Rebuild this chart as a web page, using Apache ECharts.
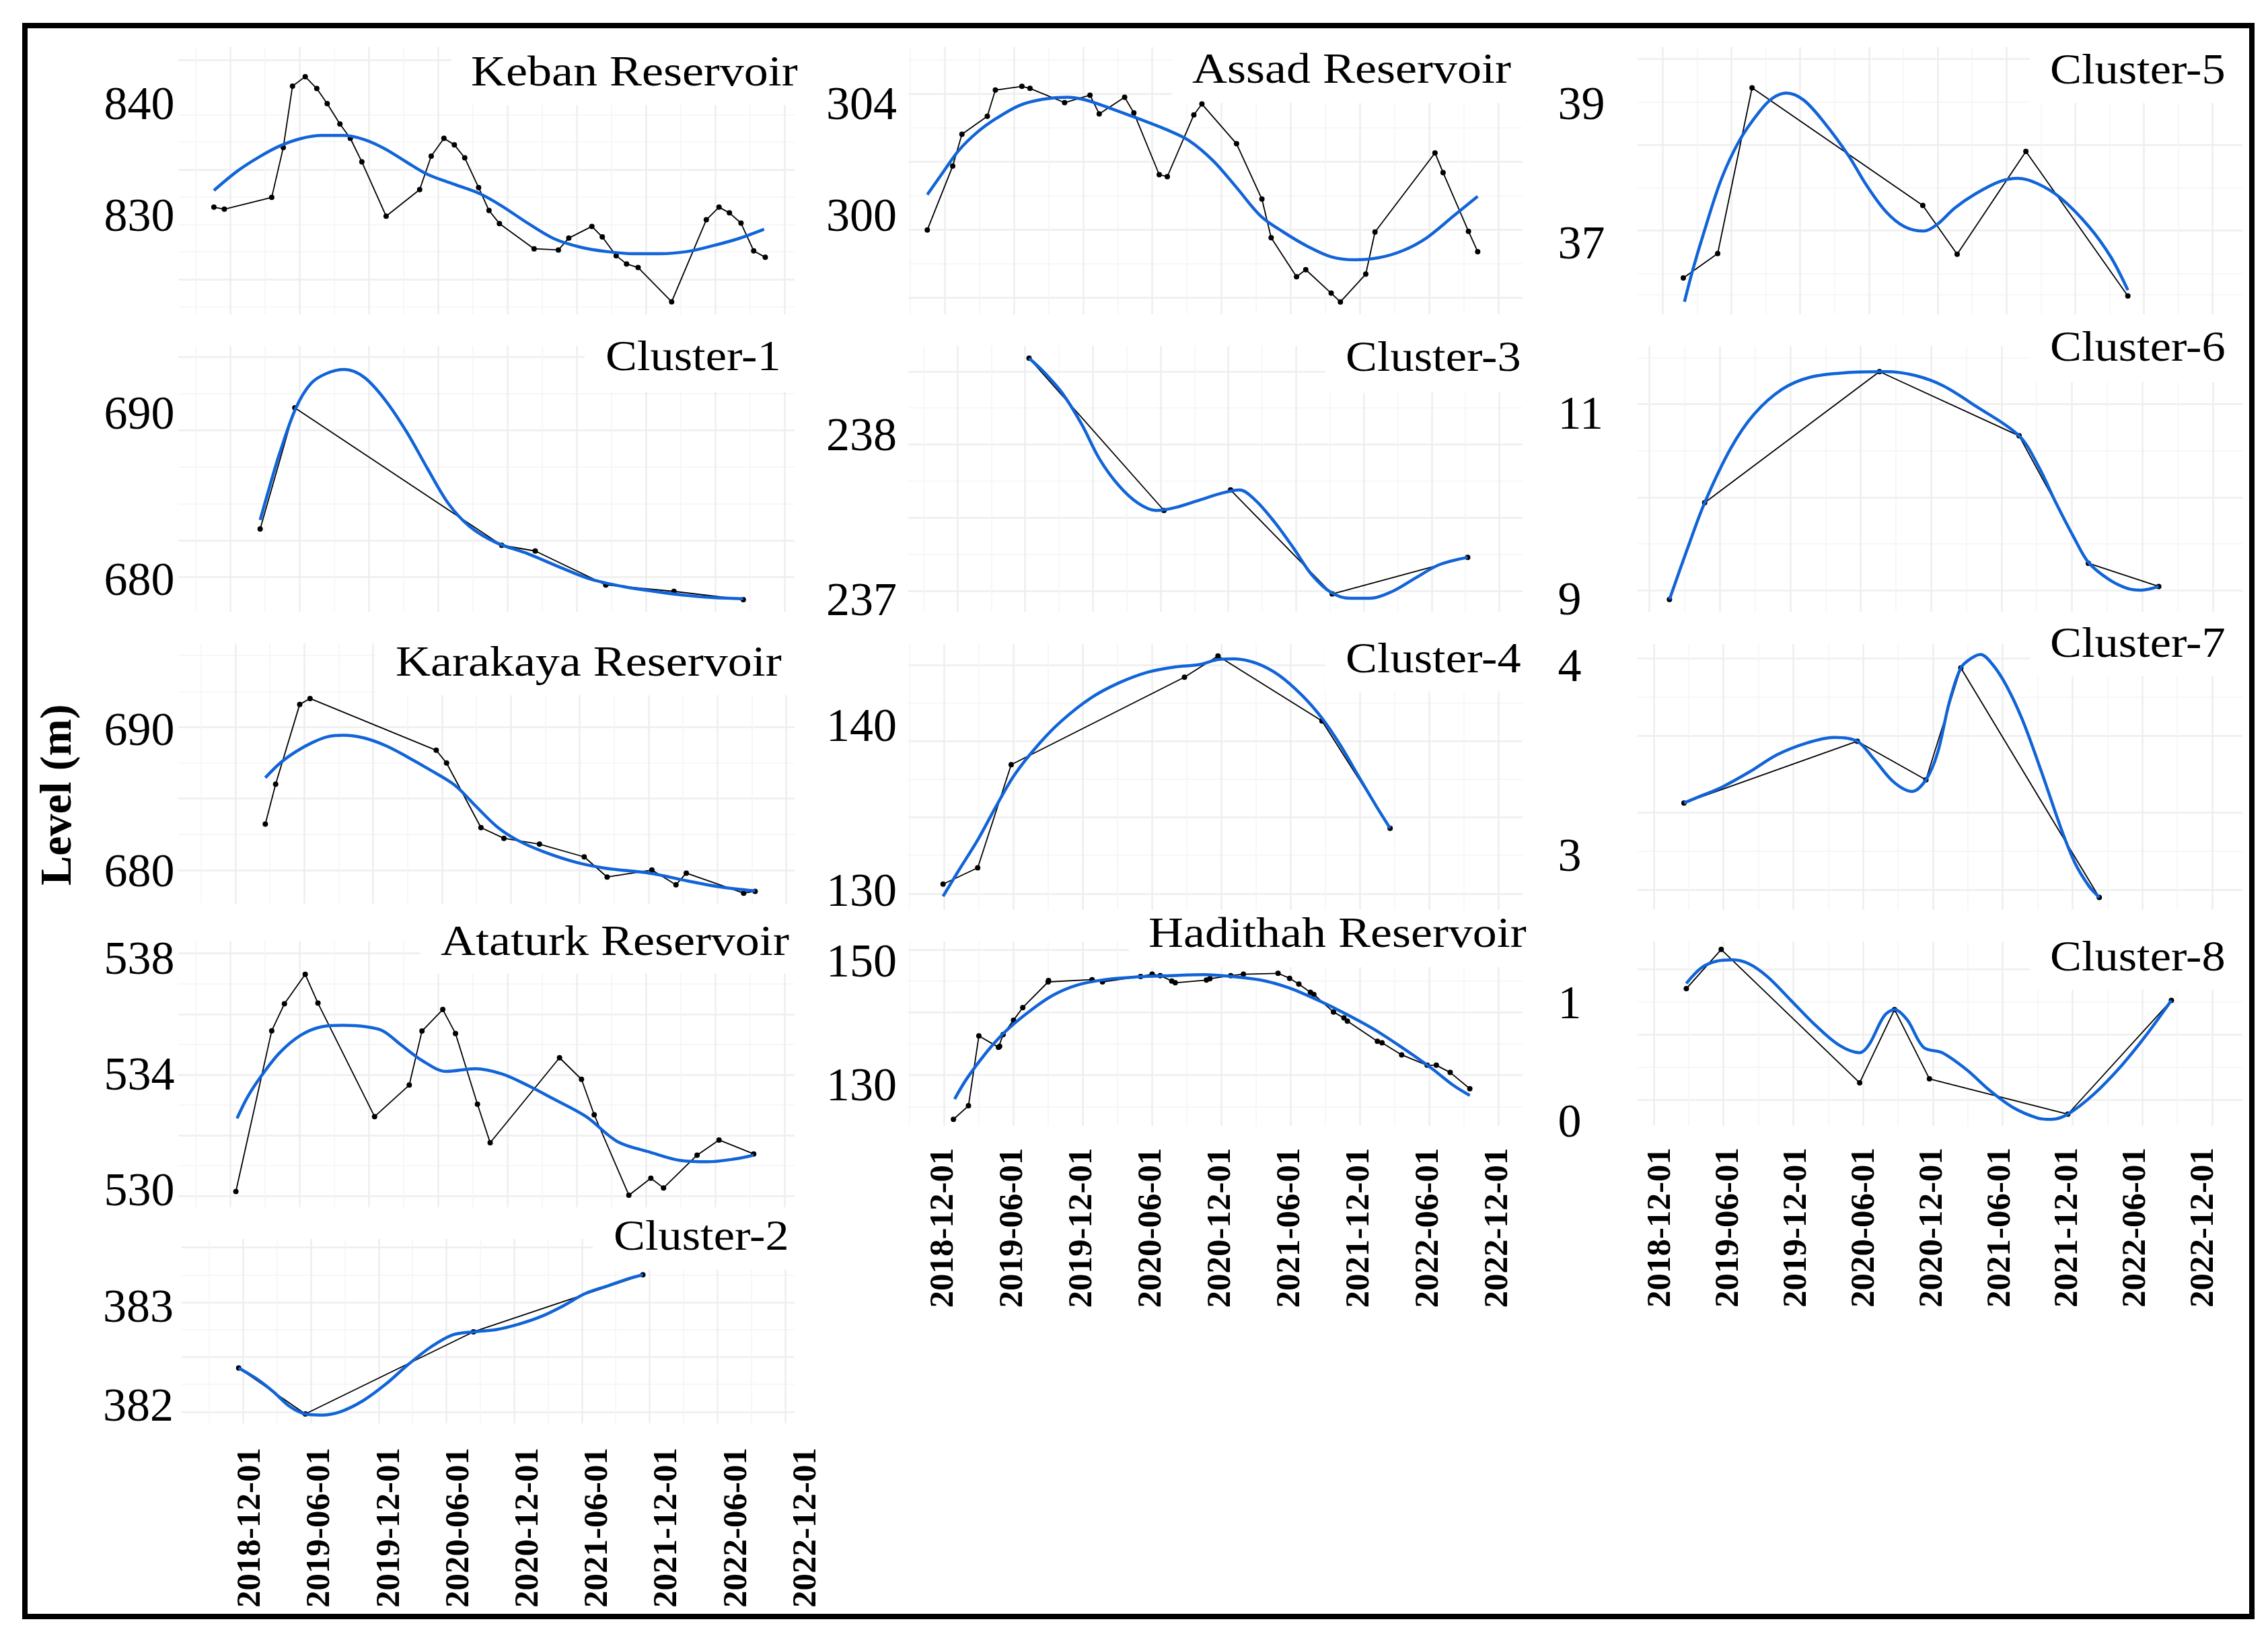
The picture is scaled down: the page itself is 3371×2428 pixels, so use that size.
<!DOCTYPE html>
<html><head><meta charset="utf-8">
<script src="https://cdn.jsdelivr.net/npm/echarts@6/dist/echarts.min.js"></script>
<style>html,body{margin:0;padding:0;background:#fff}#c{width:3371px;height:2428px}</style></head>
<body><div id="c"></div>
<script>
// x values are months since 2018-12-01
const dateLabels = ['2018-12-01','2019-06-01','2019-12-01','2020-06-01','2020-12-01','2021-06-01','2021-12-01','2022-06-01','2022-12-01'];
const keyMonths = [0,6,12,18,24,30,36,42,48];
const midMonths = [-3,3,9,15,21,27,33,39,45];

const kebanX = [-1.4,-0.5,3.6,4.6,5.4,6.5,7.5,8.4,9.5,10.4,11.4,13.5,16.4,17.4,18.5,19.4,20.3,21.5,22.4,23.3,26.3,28.4,29.3,31.3,32.2,33.4,34.3,35.3,38.2,41.2,42.3,43.2,44.2,45.3,46.3];
const kebanY = [831.56,831.38,832.45,836.99,842.6,843.46,842.38,841,839.14,837.84,835.69,830.74,833.16,836.21,837.84,837.25,836.06,833.35,831.26,830.07,827.77,827.66,828.74,829.81,828.85,827.14,826.39,826.06,822.94,830.41,831.56,831.04,830.11,827.58,826.99];
const kebanFitX = [-1.4,0.6,2.5,4.3,6.1,7.9,9.8,11.6,13.4,15.3,17.1,19.4,21.6,23.5,25.8,28,30.3,32.6,34.9,37.2,39.5,41.7,44,46.2];
const kebanFitY = [833.09,834.83,836.13,837.14,837.81,838.1,838.1,837.73,836.88,835.65,834.54,833.64,832.79,831.67,830.07,828.7,827.92,827.51,827.32,827.32,827.51,828.03,828.7,829.55];

const c1X = [2.6,5.6,23.5,26.4,32.5,38.4,44.4];
const c1Y = [683.28,691.53,682.17,681.78,679.47,679.03,678.47];
const c1FitX = [2.6,3.4,4.3,5.7,7,8.4,9.9,11.6,13.4,15.3,17.1,18.9,20.7,23,25.8,28.5,31.2,34,36.7,39.5,41.8,44.4];
const c1FitY = [683.89,686.11,688.47,691.53,693.19,693.89,694.14,693.61,692.08,689.86,687.36,685,683.47,682.36,681.58,680.69,679.86,679.36,679.03,678.75,678.61,678.53];

const karaX = [2.6,3.5,5.6,6.5,17.5,18.4,21.4,23.4,26.5,30.4,32.4,36.3,38.4,39.3,44.3,45.3];
const karaY = [683.22,686,691.59,692,688.38,687.49,682.97,682.22,681.81,680.92,679.51,680,678.97,679.78,678.38,678.51];
const karaFitX = [2.6,3.9,5.3,6.7,8,9.4,11.2,13.1,14.9,16.8,19.1,20.9,22.8,24.6,26.9,29.7,32.4,36.1,39.4,42.1,45.3];
const karaFitY = [686.46,687.49,688.3,688.92,689.32,689.43,689.24,688.7,687.95,687.08,685.95,684.51,683.03,682.08,681.27,680.54,680.11,679.78,679.24,678.84,678.54];

const ataX = [0.5,3.6,4.7,6.5,7.6,12.5,15.5,16.6,18.4,19.5,21.4,22.5,28.5,30.4,31.5,34.5,36.4,37.5,40.4,42.3,45.3];
const ataY = [530.15,535.45,536.34,537.31,536.36,532.62,533.66,535.44,536.15,535.36,533.03,531.76,534.56,533.85,532.68,530.03,530.59,530.27,531.35,531.85,531.39];
const ataFitX = [0.6,1.5,2.7,4.3,6.1,7.9,9.8,11.6,13.2,14.8,16.6,18.7,21.2,23.5,25.8,28,30.8,33.5,36.3,39,41.3,43.6,45.3];
const ataFitY = [532.56,533.26,533.96,534.73,535.3,535.58,535.63,535.59,535.45,534.98,534.47,534.11,534.2,534.03,533.64,533.2,532.62,531.8,531.45,531.17,531.13,531.22,531.35];

const c2X = [-0.4,5.5,20.4,35.4];
const c2Y = [382.4,381.98,382.73,383.25];
const c2FitX = [-0.4,1.2,2.7,4.1,5.5,6.9,8.6,10.6,12.6,14.6,16.6,18.5,20.4,22.4,24.4,26.4,28.4,30.3,32.3,34.3,35.4];
const c2FitY = [382.4,382.3,382.18,382.05,381.98,381.97,382,382.1,382.25,382.43,382.59,382.7,382.73,382.75,382.8,382.87,382.97,383.08,383.15,383.22,383.25];

const assadX = [-1.5,0.7,1.5,3.7,4.4,6.7,7.4,10.4,12.6,13.4,15.6,16.4,18.6,19.3,21.6,22.3,25.3,27.5,28.3,30.5,31.3,33.5,34.3,36.5,37.3,42.5,43.2,45.4,46.2];
const assadY = [299.99,301.87,302.81,303.34,304.11,304.22,304.16,303.74,303.96,303.41,303.9,303.44,301.62,301.56,303.38,303.7,302.53,300.9,299.76,298.61,298.82,298.13,297.87,298.69,299.93,302.26,301.68,299.95,299.35];
const assadFitX = [-1.5,-0.2,1.2,2.8,4.5,6.5,8.5,10.6,12.2,14.3,16.7,19.2,21.2,23.3,25.3,27.4,29.4,31.5,33.5,35.6,37.6,39.7,41.7,44.1,46.2];
const assadFitY = [301.03,301.66,302.32,302.86,303.28,303.66,303.84,303.9,303.82,303.58,303.28,302.95,302.62,302.02,301.24,300.4,299.92,299.5,299.2,299.11,299.17,299.38,299.74,300.4,300.98];

const c3X = [6.35,18.3,24.2,33.2,45.2];
const c3Y = [238.59,237.55,237.69,236.98,237.23];
const c3FitX = [6.35,7.6,9.3,11,12.6,14.3,16,17.6,19.3,21.4,23.5,25,26.4,28.1,29.8,31.4,33.1,34.8,36.5,38.6,40.6,42.7,45.2];
const c3FitY = [238.59,238.5,238.35,238.14,237.9,237.72,237.6,237.55,237.57,237.62,237.67,237.69,237.62,237.47,237.29,237.11,236.99,236.95,236.95,237,237.09,237.18,237.23];

const c4X = [-0.1,2.9,5.8,20.8,23.7,32.7,38.6];
const c4Y = [130.62,131.69,138.46,144.2,145.59,141.33,134.29];
const c4FitX = [-0.1,1.2,2.9,4.5,6.1,8.2,10.2,12.7,15.1,17.6,20,22.1,23.7,25.1,27,29,31,32.7,34.3,35.9,37.4,38.6];
const c4FitY = [129.82,131.45,133.52,135.74,137.81,139.82,141.36,142.84,143.82,144.53,144.88,145.03,145.36,145.41,145.12,144.32,142.99,141.51,139.73,137.66,135.74,134.29];

const hadX = [0.8,2.1,3,4.7,4.8,5.1,6,6.8,9,9.03,12.8,13.7,17,18,18.7,19.7,20,22.7,23,24.8,25.9,28.9,29.9,30.7,31.7,32,33.7,34.6,34.9,37.5,37.9,39.6,41.8,42.6,43.8,45.5];
const hadY = [122.97,125.13,136.24,134.44,134.59,136.45,138.75,140.75,144.84,145.05,145.2,144.84,145.7,146.06,145.84,144.98,144.7,145.13,145.34,145.84,146.06,146.2,145.41,144.48,143.19,142.83,140.04,139.1,138.6,135.38,135.16,133.23,131.58,131.58,130.43,127.85];
const hadFitX = [0.9,2,3.7,5.3,7.4,9.4,11.4,13.9,16.7,19.6,22.5,24.9,27.4,29.8,32.3,34.7,37.2,39.6,42.1,44.1,45.5];
const hadFitY = [126.2,129.57,133.73,136.95,140.18,142.69,144.27,145.2,145.63,145.84,145.99,145.7,145.13,143.91,141.97,139.82,137.31,134.44,131.22,128.35,126.77];

const c5X = [1.8,4.8,7.8,22.7,25.7,31.7,40.6];
const c5Y = [36.26,36.64,39.22,37.39,36.63,38.23,35.98];
const c5FitX = [1.9,2.6,3.6,5.1,6.7,8.4,9.6,10.8,12.3,14.1,16.2,17.8,19.5,21.1,22.8,24,25.5,27.3,29.4,31,32.7,34.7,37.2,39.1,40.6];
const c5FitY = [35.89,36.37,36.97,37.79,38.4,38.84,39.06,39.14,39.03,38.68,38.17,37.7,37.29,37.06,36.99,37.1,37.35,37.57,37.76,37.81,37.73,37.51,37.06,36.59,36.07];

const c6X = [1.7,4.7,19.6,31.5,37.4,43.4];
const c6Y = [8.9,9.94,11.35,10.66,9.29,9.04];
const c6FitX = [1.7,3.3,4.7,6.9,8.9,11.3,13.7,16.9,20.2,22.6,25,27.8,31.5,33.2,34.6,36.2,37.4,39.1,40.7,41.9,43.4];
const c6FitY = [8.9,9.47,9.94,10.52,10.89,11.16,11.29,11.34,11.35,11.31,11.2,10.98,10.66,10.32,9.95,9.56,9.3,9.12,9.02,9,9.04];

const c7X = [2.6,17.5,23.4,26.4,38.3];
const c7Y = [3.25,3.57,3.37,3.95,2.76];
const c7FitX = [2.6,4.2,5.8,8.2,10.6,13.1,15.5,17.5,18.9,20.6,22.2,23.4,24.4,25.4,26.4,27.3,28.1,29.1,30.3,31.7,33.4,35,36.2,37.4,38.3];
const c7FitY = [3.25,3.29,3.33,3.41,3.5,3.56,3.59,3.57,3.48,3.36,3.31,3.37,3.51,3.77,3.95,4,4.02,3.97,3.86,3.68,3.4,3.12,2.94,2.82,2.76];

const c8X = [2.8,5.8,17.7,20.7,23.7,35.6,44.5];
const c8Y = [1.1,1.4,0.38,0.94,0.41,0.14,1.01];
const c8FitX = [2.8,4.1,5.4,6.8,8.2,9.8,11.8,13.9,15.9,17.7,18.5,19.8,20.7,21.8,23.2,24.8,26.9,28.9,30.9,33,34.2,35.6,37.8,40.2,42.3,44.5];
const c8FitY = [1.14,1.26,1.31,1.32,1.29,1.19,1.01,0.82,0.67,0.61,0.67,0.89,0.94,0.86,0.65,0.61,0.48,0.32,0.19,0.11,0.1,0.14,0.29,0.51,0.74,1.01];

// layout: g = grid px box, xc = [px of month 0, px per month], yc = [v,px,v,px] for the data scale,
// lab = [v,px,v,px] for the tick labels, xl = x tick label calibration [px0, per month, top]
const LEFT=[265,1181], MID=[1350,2263], RIGHT=[2433.5,3333];
const panels = [
 {t:'Keban Reservoir',g:[...LEFT,70,467],xc:[342,17.18],yc:[840,170.3,830,333.3],lab:[840,159,830,325],ll:154.5,strong:[845,835,825],faint:[840,837.5,832.5,830,827.5,822.5],box:[671,156],tp:[700,110,1.125],x:kebanX,y:kebanY,fx:kebanFitX,fy:kebanFitY},
 {t:'Cluster-1',g:[...LEFT,514,909],xc:[342,17.18],yc:[690,639.4,680,857.6],lab:[690,619,680,866],ll:154.5,strong:[695,690,682.5,680],faint:[692.5,687.5,685],box:[869,582],tp:[900,533,1.1],x:c1X,y:c1Y,fx:c1FitX,fy:c1FitY},
 {t:'Karakaya Reservoir',g:[...LEFT,956,1343],xc:[350,17.05],yc:[690,1080.4,680,1292.8],lab:[690,1089,680,1298.5],ll:154.5,strong:[690,680,685],faint:[695,692.5,687.5,682.5],box:[558,1033],tp:[588,987,1.125],x:karaX,y:karaY,fx:karaFitX,fy:karaFitY},
 {t:'Ataturk Reservoir',g:[...LEFT,1398,1794],xc:[342,17.18],yc:[534,1597,530,1777.3],lab:[538,1429,530,1773],mid:534,ll:154.5,strong:[538,536,534,532,530],faint:[537,535,533,531],box:[625,1447],tp:[655,1402,1.125],x:ataX,y:ataY,fx:ataFitX,fy:ataFitY},
 {t:'Cluster-2',g:[269.5,1181,1841,2115],xc:[361.5,16.78],yc:[383,1935,382,2097.8],lab:[383,1946,382,2093],ll:153,strong:[383.5,383,382.5,382],faint:[383.25,382.75,382.25],box:[881,1887],tp:[912,1840,1.1],xl:[373,17.2,2151],x:c2X,y:c2Y,fx:c2FitX,fy:c2FitY},
 {t:'Assad Reservoir',g:[...MID,70,467],xc:[1404,17.15],yc:[304,139.4,300,341.2],lab:[304,158.5,300,325],ll:1228,strong:[304,302,300,298],faint:[305,303,301,299],box:[1741.6,153],tp:[1772,106,1.125],x:assadX,y:assadY,fx:assadFitX,fy:assadFitY},
 {t:'Cluster-3',g:[...MID,514,909],xc:[1423,16.78],yc:[238,660.6,237,878.2],lab:[238,651,237,896],ll:1228,strong:[238.5,238,237.5,237],faint:[238.25,237.75,237.25],box:[1969.6,583.6],tp:[2000,534,1.1],x:c3X,y:c3Y,fx:c3FitX,fy:c3FitY},
 {t:'Cluster-4',g:[...MID,957,1352],xc:[1403.4,17.17],yc:[140,1101.4,130,1327.8],lab:[140,1082.7,130,1327.8],ll:1228,strong:[145,140,135,130],faint:[142.5,137.5,132.5],box:[1969.6,1029],tp:[2000,982,1.1],x:c4X,y:c4Y,fx:c4FitX,fy:c4FitY},
 {t:'Hadithah Reservoir',g:[...MID,1399,1673],xc:[1403.4,17.17],yc:[150,1410.8,130,1597.6],lab:[150,1433,130,1617],ll:1228,strong:[150,140,130],faint:[145,135,125],box:[1678,1437],tp:[1707,1390,1.125],xl:[1402.7,17.17,1705.5],x:hadX,y:hadY,fx:hadFitX,fy:hadFitY},
 {t:'Cluster-5',g:[...RIGHT,70,467],xc:[2471.3,17.03],yc:[39,151.5,37,342.4],lab:[39,158.5,37,365.8],ll:2315.6,strong:[39.67,38.33,37],faint:[39,37.67,36.33,36],box:[3017,153],tp:[3047,107,1.1],x:c5X,y:c5Y,fx:c5FitX,fy:c5FitY},
 {t:'Cluster-6',g:[...RIGHT,514,909],xc:[2451.7,17.44],yc:[11,600.6,9,877],lab:[11,619,9,895],ll:2315.6,strong:[11,10,9],faint:[11.5,10.5,9.5],box:[3017,568],tp:[3047,519,1.1],x:c6X,y:c6Y,fx:c6FitX,fy:c6FitY},
 {t:'Cluster-7',g:[...RIGHT,957,1352],xc:[2458,17.29],yc:[4,978.2,3,1264.8],lab:[4,994,3,1275.5],ll:2315.6,strong:[4,3.6,3.2,2.8],faint:[3.8,3],box:[3017,1005],tp:[3047,959,1.1],x:c7X,y:c7Y,fx:c7FitX,fy:c7FitY},
 {t:'Cluster-8',g:[...RIGHT,1399,1673],xc:[2458,17.29],yc:[1,1488.5,0,1682.7],lab:[1,1495,0,1671],ll:2315.6,strong:[1.25,0.75,0.25],faint:[1,0.5],box:[3017,1471],tp:[3047,1425,1.1],xl:[2470,17.2,1705],x:c8X,y:c8Y,fx:c8FitX,fy:c8FitY}
];

const SERIF='"Liberation Serif","Times New Roman",serif';
const grid=[],xAxis=[],yAxis=[],series=[],graphic=[];
const STRONG={color:'#eeeeee',width:2.5}, FAINT={color:'#f5f5f5',width:1.5};
function zip(a,b){return a.map((v,i)=>[v,b[i]]);}
function bare(extra){return Object.assign({axisLine:{show:false},axisLabel:{show:false},scale:true},extra);}
const extraGrids=[];
panels.forEach((p,i)=>{
  const [l,r,t,b]=p.g;
  grid.push({left:l,top:t,width:r-l,height:b-t});
  const xmin=(l-p.xc[0])/p.xc[1], xmax=(r-p.xc[0])/p.xc[1];
  const k=(p.yc[3]-p.yc[1])/(p.yc[0]-p.yc[2]);
  const ymax=p.yc[0]+(p.yc[1]-t)/k, ymin=p.yc[0]+(p.yc[1]-b)/k;
  const inX=v=>v>=xmin&&v<=xmax;
  const xi=xAxis.length, yi=yAxis.length;
  xAxis.push(bare({type:'value',gridIndex:i,position:'bottom',min:xmin,max:xmax,axisTick:{show:false,customValues:keyMonths.filter(inX)},splitLine:{show:true,lineStyle:STRONG}}));
  xAxis.push(bare({type:'value',gridIndex:i,position:'bottom',min:xmin,max:xmax,axisTick:{show:false,customValues:midMonths.filter(inX)},splitLine:{show:true,lineStyle:FAINT}}));
  yAxis.push(bare({type:'value',gridIndex:i,position:'left',min:ymin,max:ymax,axisTick:{show:false,customValues:p.strong},splitLine:{show:true,lineStyle:STRONG}}));
  yAxis.push(bare({type:'value',gridIndex:i,position:'left',min:ymin,max:ymax,axisTick:{show:false,customValues:p.faint},splitLine:{show:true,lineStyle:FAINT}}));
  // tick labels
  const lk=(p.lab[3]-p.lab[1])/(p.lab[0]-p.lab[2]);
  const labVals=p.mid!==undefined?[p.lab[0],p.mid,p.lab[2]]:[p.lab[0],p.lab[2]];
  yAxis.push({type:'value',gridIndex:i,position:'left',scale:true,min:p.lab[0]+(p.lab[1]-b)/lk,max:p.lab[0]+(p.lab[1]-t)/lk,
    axisLine:{show:false},axisTick:{show:false},splitLine:{show:false},
    axisLabel:{show:true,customValues:labVals,formatter:v=>String(Math.round(v)),align:'left',margin:l-p.ll,
      fontFamily:SERIF,fontSize:70,color:'#000'}});
  if(p.xl) extraGrids.push({l,r:r+60,t,b,xl:p.xl});
  series.push({type:'line',name:p.t+' observed',xAxisIndex:xi,yAxisIndex:yi,data:zip(p.x,p.y),clip:false,z:3,
    symbol:'circle',symbolSize:8,lineStyle:{color:'#000',width:1.8},itemStyle:{color:'#000'},animation:false});
  series.push({type:'line',name:p.t+' smooth',xAxisIndex:xi,yAxisIndex:yi,data:zip(p.fx,p.fy),clip:false,z:4,smooth:0.33,
    showSymbol:false,symbol:'none',lineStyle:{color:'#1164d8',width:4.5},animation:false});
  graphic.push({type:'rect',z:1,silent:true,shape:{x:p.box[0],y:t-6,width:r+8-p.box[0],height:p.box[1]-t+6},style:{fill:'#fff'}});
  graphic.push({type:'text',z:10,silent:true,x:p.tp[0],y:p.tp[1],scaleX:p.tp[2],style:{text:p.t,x:0,y:0,font:'64px '+SERIF,fill:'#000',textAlign:'left',textVerticalAlign:'middle'}});
});
// date tick labels live on their own label-only grid, wider than the panel so the last tick fits
extraGrids.forEach(e=>{
  const gi=grid.length;
  grid.push({left:e.l,top:e.t,width:e.r-e.l,height:e.b-e.t});
  xAxis.push({type:'value',gridIndex:gi,position:'bottom',min:(e.l-e.xl[0])/e.xl[1],max:(e.r-e.xl[0])/e.xl[1],
    axisLine:{show:false},axisTick:{show:false},splitLine:{show:false},
    axisLabel:{show:true,customValues:keyMonths,rotate:90,margin:e.xl[2]-e.b,formatter:v=>dateLabels[Math.round(v/6)],
      fontFamily:SERIF,fontWeight:'bold',fontSize:51,color:'#000'}});
  yAxis.push({type:'value',gridIndex:gi,show:false,min:0,max:1});
});
graphic.push({type:'text',z:10,silent:true,x:88,y:1181,rotation:Math.PI/2,style:{text:'Level (m)',x:0,y:0,font:'bold 66px '+SERIF,fill:'#000',textAlign:'center',textVerticalAlign:'middle'}});
graphic.push({type:'rect',z:20,silent:true,shape:{x:37,y:38,width:3310,height:2364},style:{fill:'none',stroke:'#000',lineWidth:8}});

const chart=echarts.init(document.getElementById('c'),null,{renderer:'canvas',width:3371,height:2428});
chart.setOption({animation:false,backgroundColor:'#fff',grid,xAxis,yAxis,series,graphic:{elements:graphic}});
</script></body></html>
